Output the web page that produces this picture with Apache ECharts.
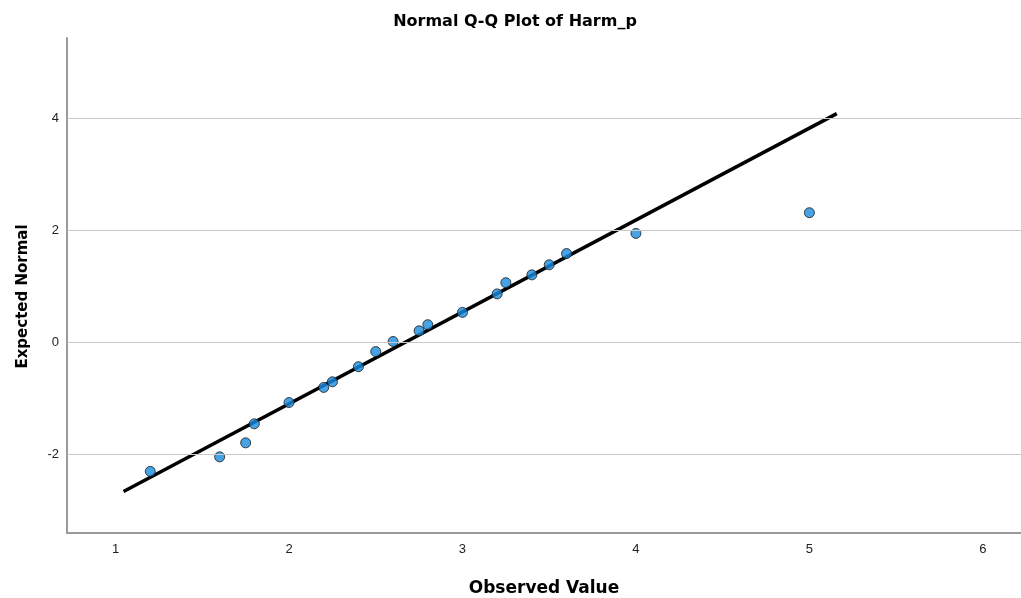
<!DOCTYPE html>
<html>
<head>
<meta charset="utf-8">
<script src="https://cdn.jsdelivr.net/npm/echarts@6/dist/echarts.min.js"></script>
<style>
html,body{margin:0;padding:0;background:#fff;}
#chart{width:1021px;height:598px;}
</style>
</head>
<body>
<div id="chart"></div>
<script>
// Observed values (x) and expected normal quantiles (y)
const observed = [1.20, 1.60, 1.75, 1.80, 2.00, 2.20, 2.25, 2.40, 2.50, 2.60, 2.75, 2.80, 3.00, 3.20, 3.25, 3.40, 3.50, 3.60, 4.00, 5.00];
const expected = [-2.30, -2.04, -1.79, -1.45, -1.07, -0.80, -0.70, -0.43, -0.16, 0.02, 0.21, 0.32, 0.54, 0.87, 1.07, 1.21, 1.39, 1.59, 1.95, 2.32];
// Reference line endpoints
const refLineX = [1.046, 5.158];
const refLineY = [-2.66, 4.09];
// Axis tick labels
const xTicks = [1, 2, 3, 4, 5, 6];
const yTicks = [-2, 0, 2, 4];

const chart = echarts.init(document.getElementById('chart'), null, {renderer: 'canvas'});
const font = '"Liberation Sans", Arial, sans-serif';
const boldFont = '"DejaVu Sans", "Liberation Sans", sans-serif';
const pts = observed.map((v, i) => [v, expected[i]]);
const linePts = refLineX.map((v, i) => [v, refLineY[i]]);
const isTick = (arr, v) => arr.some(t => Math.abs(t - v) < 1e-6);

chart.setOption({
  backgroundColor: '#ffffff',
  animation: false,
  title: {
    text: 'Normal Q-Q Plot of Harm_p',
    left: 510, top: 9, textAlign: 'center',
    textStyle: {fontFamily: boldFont, fontSize: 16, fontWeight: 'bold', color: '#000'}
  },
  grid: {left: 67, right: 0, top: 38, bottom: 65, containLabel: false, outerBoundsMode: 'none'},
  xAxis: {
    type: 'value', min: 0.72, max: 6.22, interval: 0.04,
    name: 'Observed Value', nameLocation: 'middle', nameGap: 47,
    nameTextStyle: {fontFamily: boldFont, fontSize: 17, fontWeight: 'bold', color: '#000'},
    axisLine: {show: true, onZero: false, lineStyle: {color: '#9a9a9a', width: 2}},
    axisTick: {show: false},
    axisLabel: {interval: 0, hideOverlap: false, showMinLabel: false, showMaxLabel: false, margin: 10,
      fontFamily: font, fontSize: 13, color: '#222',
      formatter: v => (isTick(xTicks, v) ? String(Math.round(v)) : '')},
    splitLine: {show: false}
  },
  yAxis: {
    type: 'value', min: -3.4, max: 5.44, interval: 0.2,
    name: 'Expected Normal', nameLocation: 'middle', nameGap: 36,
    nameTextStyle: {fontFamily: boldFont, fontSize: 15, fontWeight: 'bold', color: '#000', padding: [0, 22, 0, 0]},
    axisLine: {show: true, onZero: false, lineStyle: {color: '#9a9a9a', width: 2}},
    axisTick: {show: false},
    axisLabel: {interval: 0, hideOverlap: false, showMinLabel: false, showMaxLabel: false, margin: 8,
      fontFamily: font, fontSize: 13, color: '#222',
      formatter: v => (isTick(yTicks, v) ? String(Math.round(v)) : '')},
    splitLine: {show: false}
  },
  series: [
    {
      type: 'line', data: [], z: 1, silent: true,
      markLine: {
        silent: true, symbol: 'none', animation: false,
        label: {show: false},
        lineStyle: {color: '#c8c8c8', width: 1, type: 'solid'},
        emphasis: {disabled: true},
        data: yTicks.map(v => ({yAxis: v}))
      }
    },
    {
      type: 'line', data: linePts, symbol: 'none', z: 3,
      lineStyle: {color: '#000', width: 3.5}
    },
    {
      type: 'scatter', data: pts, symbol: 'circle', symbolSize: 10, z: 4,
      itemStyle: {color: '#1a8be0', borderColor: '#1a1a1a', borderWidth: 1}
    }
  ]
});
</script>
</body>
</html>
